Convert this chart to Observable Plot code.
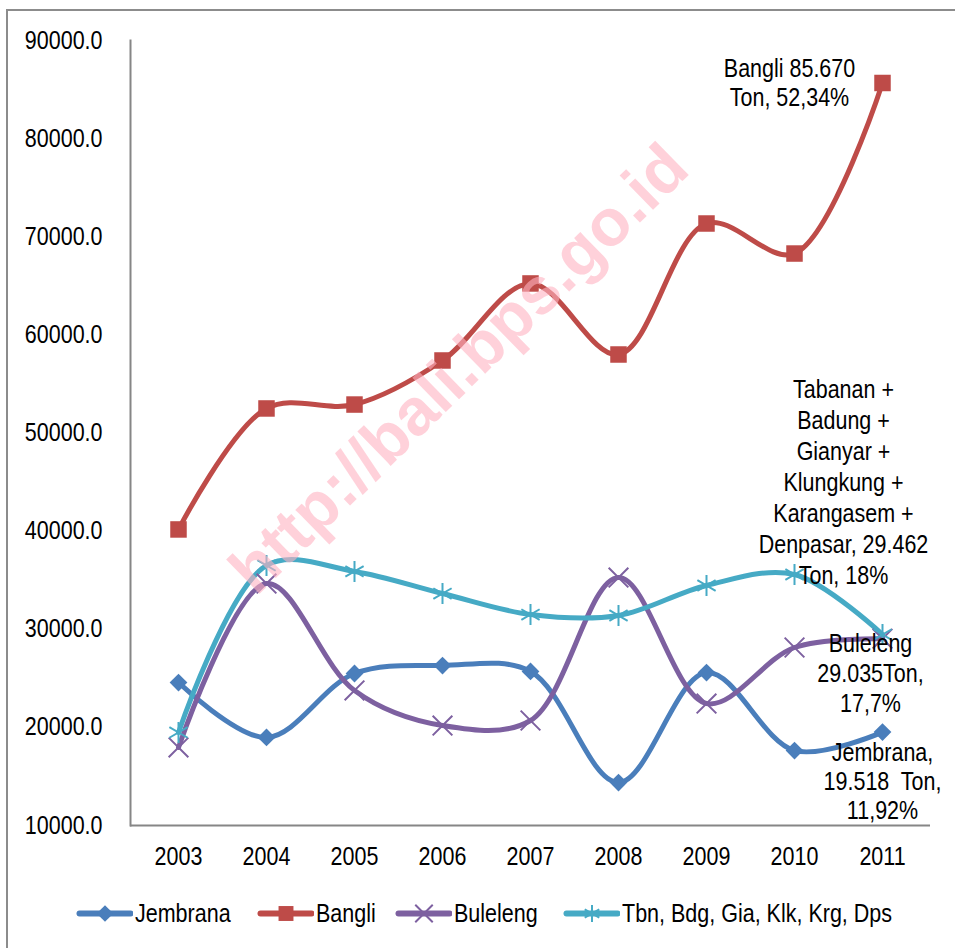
<!DOCTYPE html>
<html><head><meta charset="utf-8">
<script src="https://cdn.jsdelivr.net/npm/d3@7"></script>
<script src="https://cdn.jsdelivr.net/npm/@observablehq/plot@0.6"></script>
<style>
body{margin:0;background:#fff;}
#wrap{position:relative;width:955px;height:948px;overflow:hidden;font-family:"Liberation Sans Narrow","Arial Narrow","Liberation Sans",sans-serif;}
#border{position:absolute;left:6px;top:9px;width:1000px;height:1000px;border:2px solid #8c8c8c;box-sizing:border-box;pointer-events:none;}
#chart{position:absolute;left:0;top:0;}
#legend{position:absolute;left:0;top:895px;width:955px;height:36px;font-size:25px;color:#000;}
.item{position:absolute;top:0;height:36px;display:flex;align-items:center;}
.item svg{display:block;margin-right:2px;}
.item span{display:inline-block;transform:scaleX(0.86);transform-origin:left center;white-space:nowrap;}
#wm{position:absolute;left:458px;top:368px;transform:translate(-50%,-50%) rotate(-44.3deg);font:bold 66px "Liberation Sans",Arial,sans-serif;color:rgba(255,179,193,0.6);white-space:nowrap;pointer-events:none;}
</style></head>
<body>
<div id="wrap">
  <div id="chart"></div>
  <div id="legend"></div>
  <div id="wm">http://bali.bps.go.id</div>
  <div id="border"></div>
</div>
<script>
const years = ["2003","2004","2005","2006","2007","2008","2009","2010","2011"];
const jembrana = [24570, 18970, 25490, 26300, 25700, 14380, 25590, 17640, 19518];
const bangli   = [40170, 52500, 52900, 57390, 65240, 58000, 71350, 68290, 85670];
const buleleng = [17950, 34660, 23760, 20190, 20700, 35270, 22430, 28140, 29035];
const others   = [19480, 36500, 35890, 33640, 31500, 31400, 34460, 35580, 29462];
const seriesNames = ["Jembrana", "Bangli", "Buleleng", "Tbn, Bdg, Gia, Klk, Krg, Dps"];
const seriesValues = [jembrana, bangli, buleleng, others];
const colors = ["#4a7ebb", "#be4b48", "#7d60a0", "#46aac5"];
const symbols = ["diamond2", "square2", "times", "asterisk"];
const yTicks = [10000, 20000, 30000, 40000, 50000, 60000, 70000, 80000, 90000];
const annotations = [
  {series: "Bangli", text: "Bangli 85.670\nTon, 52,34%", dx: -93, dy: -1, anchor: "middle", lh: 1.16},
  {series: "Tbn, Bdg, Gia, Klk, Krg, Dps", text: "Tabanan +\nBadung +\nGianyar +\nKlungkung +\nKarangasem +\nDenpasar, 29.462\nTon, 18%", dx: -39, dy: -51, anchor: "bottom", lh: 1.24},
  {series: "Buleleng", text: "Buleleng\n29.035Ton,\n17,7%", dx: -12, dy: -8, anchor: "top", lh: 1.2},
  {series: "Jembrana", text: "Jembrana,\n19.518  Ton,\n11,92%", dx: 0, dy: 8, anchor: "top", lh: 1.16}
];

const data = [];
seriesNames.forEach((s, i) => years.forEach((y, j) => data.push({series: s, year: y, value: seriesValues[i][j]})));
const last = s => data.filter(d => d.series === s && d.year === years[years.length - 1]);

const font = `"Liberation Sans Narrow","Arial Narrow","Liberation Sans",sans-serif`;
const marks = [
  Plot.ruleY([10000], {stroke: "#868686", strokeWidth: 2}),
  Plot.frame({anchor: "left", stroke: "#868686", strokeWidth: 2}),
  Plot.axisY({ticks: yTicks, tickSize: 0, tickPadding: 28, tickFormat: d => d.toFixed(1), label: null, fontSize: 25, fill: "#000"}),
  Plot.axisX({tickSize: 0, tickPadding: 22, label: null, fontSize: 25, fill: "#000"})
];
seriesNames.forEach((s, i) => {
  const sd = data.filter(d => d.series === s);
  marks.push(Plot.line(sd, {x: "year", y: "value", stroke: colors[i], strokeWidth: 5, curve: "catmull-rom"}));
});
seriesNames.forEach((s, i) => {
  const sd = data.filter(d => d.series === s);
  const isFill = symbols[i].endsWith("2");
  marks.push(Plot.dot(sd, {x: "year", y: "value", symbol: symbols[i], r: isFill ? (i === 0 ? 8 : 10.5) : (i === 3 ? 10 : 9),
    fill: isFill ? colors[i] : "none", stroke: isFill ? "none" : colors[i], strokeWidth: 2}));
});
annotations.forEach(a => {
  marks.push(Plot.text(last(a.series), {x: "year", y: "value", text: () => a.text, dx: a.dx, dy: a.dy,
    lineAnchor: a.anchor, textAnchor: "middle", fontSize: 25, lineHeight: a.lh, fill: "#000"}));
});

const chart = Plot.plot({
  width: 955, height: 875,
  marginLeft: 130, marginRight: 25, marginTop: 40, marginBottom: 50,
  style: {fontFamily: font, background: "transparent", color: "#000"},
  x: {type: "point", domain: years, padding: 0.5},
  y: {domain: [10000, 90000]},
  marks
});
document.getElementById("chart").appendChild(chart);

// narrow the glyphs horizontally around each text's own anchor point
const sx = 0.86;
const NS = "http://www.w3.org/2000/svg";
chart.querySelectorAll("text").forEach(t => {
  const r = t.getBoundingClientRect();
  const anc = getComputedStyle(t).textAnchor;
  const ax = anc === "end" ? r.right : anc === "middle" ? (r.left + r.right) / 2 : r.left;
  const m = t.parentNode.getScreenCTM();
  const p = new DOMPoint(ax, r.top).matrixTransform(m.inverse());
  const g = document.createElementNS(NS, "g");
  g.setAttribute("transform", `translate(${p.x},0) scale(${sx},1) translate(${-p.x},0)`);
  t.parentNode.insertBefore(g, t);
  g.appendChild(t);
});

// legend
const legendX = [76, 257, 395, 563];
const legend = document.getElementById("legend");
seriesNames.forEach((s, i) => {
  const item = document.createElement("div");
  item.className = "item";
  item.style.left = legendX[i] + "px";
  const sw = Plot.plot({
    width: 57, height: 36, margin: 0,
    x: {domain: [0, 1], range: [3, 54], axis: null},
    y: {domain: [0, 1], range: [18, 18], axis: null},
    style: {background: "transparent"},
    marks: [
      Plot.line([0, 1], {x: d => d, y: () => 0.5, stroke: colors[i], strokeWidth: 6, strokeLinecap: "round"}),
      Plot.dot([0.5], {x: d => d, y: () => 0.5, symbol: symbols[i], r: symbols[i].endsWith("2") ? (i === 0 ? 7.5 : 9.5) : 8,
        fill: symbols[i].endsWith("2") ? colors[i] : "none", stroke: symbols[i].endsWith("2") ? "none" : colors[i], strokeWidth: 2})
    ]
  });
  item.appendChild(sw);
  const t = document.createElement("span");
  t.textContent = s;
  item.appendChild(t);
  legend.appendChild(item);
});
</script>
</body></html>
